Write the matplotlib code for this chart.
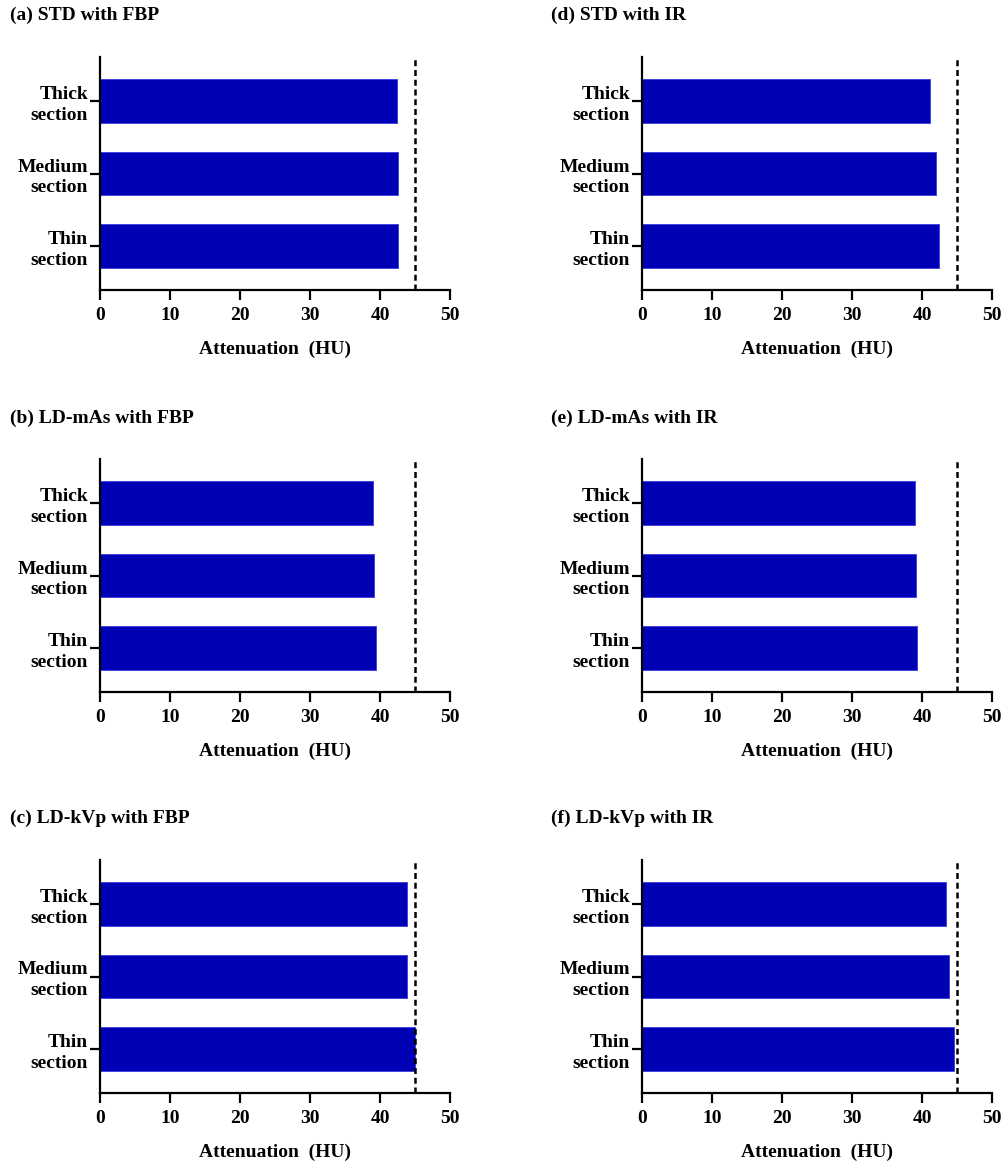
import numpy as np
import matplotlib.pyplot as plt

plt.rcParams['font.family'] = ['Liberation Serif', 'DejaVu Serif']
plt.rcParams['font.weight'] = 'bold'

# categories, bottom to top
sections = ['Thin\nsection', 'Medium\nsection', 'Thick\nsection']

panel_titles = ['(a) STD with FBP', '(b) LD-mAs with FBP', '(c) LD-kVp with FBP',
                '(d) STD with IR', '(e) LD-mAs with IR', '(f) LD-kVp with IR']

# attenuation values (HU), order: thin, medium, thick
std_fbp = [42.6, 42.6, 42.4]
ldmas_fbp = [39.4, 39.15, 38.95]
ldkvp_fbp = [45.0, 43.8, 43.8]
std_ir = [42.4, 42.0, 41.1]
ldmas_ir = [39.3, 39.2, 39.0]
ldkvp_ir = [44.5, 43.9, 43.4]

reference_hu = 45
x_ticks = [0, 10, 20, 30, 40, 50]

panel_values = [std_fbp, ldmas_fbp, ldkvp_fbp, std_ir, ldmas_ir, ldkvp_ir]

W, H = 1005, 1167
fig = plt.figure(figsize=(W / 100, H / 100), dpi=100)

col_left = [100, 642]
row_bottom = [290, 692, 1093]
ax_w, ax_h = 350, 233
title_x = [10, 551]
title_y = [15, 418, 818]

y = np.arange(len(sections))

for i, (title, vals) in enumerate(zip(panel_titles, panel_values)):
    col, row = divmod(i, 3)
    ax = fig.add_axes([col_left[col] / W, 1 - row_bottom[row] / H, ax_w / W, ax_h / H])
    ax.barh(y, vals, height=0.6, color='#0000B4', edgecolor='#3A3AE0', linewidth=0.6)
    ax.axvline(reference_hu, color='black', linestyle=(0, (2.4, 1.5)), linewidth=1.8)
    ax.set_xlim(0, 50)
    ax.set_ylim(-0.6, 2.6)
    ax.set_xticks(x_ticks)
    ax.set_yticks(y)
    ax.set_yticklabels(sections, ha='right', linespacing=1.3)
    ax.tick_params(axis='x', direction='out', length=7, width=1.6, labelsize=14, pad=5)
    ax.tick_params(axis='y', direction='out', length=7, width=1.6, labelsize=14, pad=1.5)
    for s in ['top', 'right']:
        ax.spines[s].set_visible(False)
    for s in ['left', 'bottom']:
        ax.spines[s].set_linewidth(1.6)
    ax.set_xlabel('Attenuation  (HU)', fontsize=14, fontweight='bold', labelpad=12)
    fig.text(title_x[col] / W, 1 - title_y[row] / H, title, fontsize=14,
             fontweight='bold', va='center', ha='left')

fig.savefig('out.png', dpi=100)
